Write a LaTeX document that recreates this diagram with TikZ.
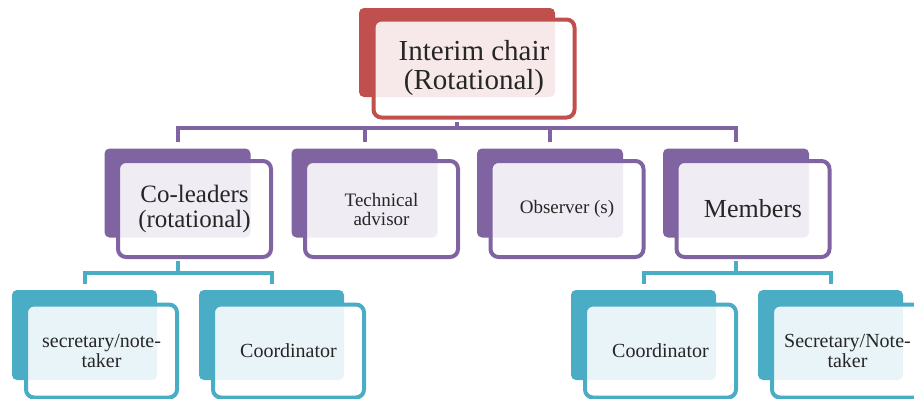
\documentclass[tikz,border=0pt]{standalone}
\usepackage{fontspec}
\setmainfont{Liberation Serif}
\usetikzlibrary{calc}

\definecolor{chairred}{HTML}{C0504D}
\definecolor{grppurple}{HTML}{8064A2}
\definecolor{subcyan}{HTML}{4BACC6}
\definecolor{txtgray}{HTML}{262626}

\tikzset{
  back/.style={fill=#1, rounded corners=5pt, inner sep=0pt},
  front/.style={draw=#1, fill=white, fill opacity=0.88, text opacity=1, line width=4pt,
    rounded corners=8pt, align=center, text=txtgray, inner sep=0pt},
  link/.style={draw=#1, line width=4pt},
  lvltop/.style={minimum width=196pt, minimum height=89pt},
  lvltwo/.style={minimum width=146pt, minimum height=89pt},
  lvlthree/.style={minimum width=145pt, minimum height=90pt},
  ftop/.style={minimum width=201pt, minimum height=98pt},
  ftwo/.style={minimum width=153pt, minimum height=96pt},
  fthree/.style={minimum width=151pt, minimum height=93pt},
}
\newcommand{\fs}[1]{\fontsize{#1}{#1}\selectfont}

\begin{document}
\begin{tikzpicture}[x=1pt,y=-1pt]
\useasboundingbox (0,0) rectangle (914,399);
\clip (0,0) rectangle (914,399);

% back boxes
\node[back=chairred,lvltop] (chair-b) at (457,52.5) {};
\node[back=grppurple,lvltwo] (coleads-b) at (177.5,193) {};
\node[back=grppurple,lvltwo] (tech-b) at (364.5,193) {};
\node[back=grppurple,lvltwo] (observer-b) at (550,193) {};
\node[back=grppurple,lvltwo] (members-b) at (736,193) {};
\node[back=subcyan,lvlthree] (secL-b) at (84.5,335) {};
\node[back=subcyan,lvlthree] (coordL-b) at (271.5,335) {};
\node[back=subcyan,lvlthree] (coordR-b) at (643.5,335) {};
\node[back=subcyan,lvlthree] (secR-b) at (830.5,335) {};

% front boxes
\node[front=chairred,ftop,font=\fs{29}] (chair) at ($(chair-b)+(17,16)$) {Interim chair\\(Rotational)};
\node[front=grppurple,ftwo,font=\fs{25}] (coleads) at ($(coleads-b)+(17,16)$) {Co-leaders\\(rotational)};
\node[front=grppurple,ftwo,font=\fs{19}] (tech) at ($(tech-b)+(17,16)$) {Technical\\advisor};
\node[front=grppurple,ftwo,font=\fs{19}] (observer) at ($(observer-b)+(17,16)$) {Observer (s)};
\node[front=grppurple,ftwo,font=\fs{26}] (members) at ($(members-b)+(17,16)$) {Members};
\node[front=subcyan,fthree,font=\fs{20}] (secL) at ($(secL-b)+(17,16)$) {secretary/note-\\taker};
\node[front=subcyan,fthree,font=\fs{20}] (coordL) at ($(coordL-b)+(17,16)$) {Coordinator};
\node[front=subcyan,fthree,font=\fs{20}] (coordR) at ($(coordR-b)+(17,16)$) {Coordinator};
\node[front=subcyan,fthree,font=\fs{20}] (secR) at ($(secR-b)+(17,16)$) {Secretary/Note-\\taker};

% connectors
\coordinate (barP) at (0,128);
\coordinate (barC) at (0,273);
\draw[link=grppurple,shorten <=2pt] (chair-b.center |- chair.south) -- (chair-b.center |- barP);
\draw[link=grppurple] ([yshift=6pt]coleads-b.north) |- (barP -| chair-b.center) -| ([yshift=6pt]members-b.north);
\draw[link=grppurple] ([yshift=6pt]tech-b.north) -- (tech-b.north |- barP);
\draw[link=grppurple] ([yshift=6pt]observer-b.north) -- (observer-b.north |- barP);

\draw[link=subcyan,shorten <=2pt] (coleads-b.center |- coleads.south) -- (coleads-b.center |- barC);
\draw[link=subcyan] ([yshift=6pt]secL-b.north) |- (barC -| coleads-b.center) -| ([yshift=6pt]coordL-b.north);
\draw[link=subcyan,shorten <=2pt] (members-b.center |- members.south) -- (members-b.center |- barC);
\draw[link=subcyan] ([yshift=6pt]coordR-b.north) |- (barC -| members-b.center) -| ([yshift=6pt]secR-b.north);

\end{tikzpicture}
\end{document}
